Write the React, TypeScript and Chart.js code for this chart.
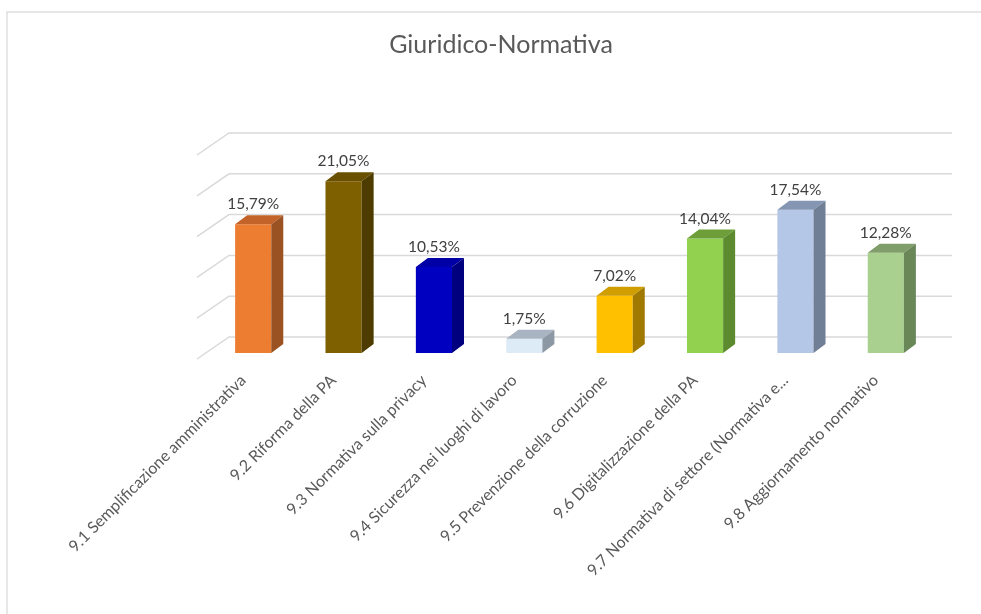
import React, { useEffect, useRef } from "react";
import { Chart, registerables } from "chart.js";

Chart.register(...registerables);

const TITLE = "Giuridico-Normativa";
const categories = [
  "9.1 Semplificazione amministrativa",
  "9.2 Riforma della PA",
  "9.3 Normativa sulla privacy",
  "9.4 Sicurezza nei luoghi di lavoro",
  "9.5 Prevenzione della corruzione",
  "9.6 Digitalizzazione della PA",
  "9.7 Normativa di settore (Normativa e...",
  "9.8 Aggiornamento normativo",
];
const values = [15.79, 21.05, 10.53, 1.75, 7.02, 14.04, 17.54, 12.28];
const frontColors = ["#ED7D31", "#7F6000", "#0000C0", "#DDEBF7", "#FFC000", "#92D050", "#B4C7E7", "#A9D08E"];
const topColors = ["#C3632A", "#695000", "#0000A6", "#A8B4C2", "#D09E00", "#6E9E3A", "#8496B2", "#7F9E69"];
const sideColors = ["#9A5222", "#4E3B00", "#00007E", "#8C98A4", "#A07A00", "#5C8A2E", "#707E96", "#6A8758"];
const yTicks = [0, 5, 10, 15, 20, 25];

const FONT = "Lato, 'Open Sans', sans-serif";

const frame3d = {
  id: "frame3d",
  beforeDraw(chart: any) {
    const ctx = chart.ctx;
    ctx.save();
    ctx.strokeStyle = "#E0E0E0";
    ctx.lineWidth = 1.5;
    ctx.beginPath();
    ctx.moveTo(7, chart.height);
    ctx.lineTo(7, 12);
    ctx.lineTo(chart.width, 12);
    ctx.stroke();
    // title
    ctx.fillStyle = "#595959";
    ctx.font = `25px ${FONT}`;
    ctx.textAlign = "center";
    ctx.textBaseline = "middle";
    ctx.fillText(TITLE, 501, 45);
    ctx.restore();
  },
  beforeDatasetsDraw(chart: any) {
    const ctx = chart.ctx;
    const y = chart.scales.y;
    const a = chart.chartArea;
    const bx = 21, by = 16;
    ctx.save();
    ctx.strokeStyle = "#D9D9D9";
    ctx.lineWidth = 1.5;
    for (const t of yTicks) {
      const py = y.getPixelForValue(t) - by;
      const lx = a.left + bx;
      ctx.beginPath();
      ctx.moveTo(lx - 32, py + 22);
      ctx.lineTo(lx, py);
      ctx.lineTo(a.right + bx, py);
      ctx.stroke();
    }
    ctx.restore();
  },
  afterDatasetsDraw(chart: any) {
    const ctx = chart.ctx;
    const meta = chart.getDatasetMeta(0);
    const dx = 12, dy = 9;
    ctx.save();
    meta.data.forEach((bar: any, i: number) => {
      const { x, y, base, width } = bar.getProps(["x", "y", "base", "width"], true);
      const l = x - width / 2, r = x + width / 2;
      ctx.fillStyle = topColors[i];
      ctx.beginPath();
      ctx.moveTo(l, y);
      ctx.lineTo(l + dx, y - dy);
      ctx.lineTo(r + dx, y - dy);
      ctx.lineTo(r, y);
      ctx.closePath();
      ctx.fill();
      ctx.fillStyle = sideColors[i];
      ctx.beginPath();
      ctx.moveTo(r, y);
      ctx.lineTo(r + dx, y - dy);
      ctx.lineTo(r + dx, base - dy);
      ctx.lineTo(r, base);
      ctx.closePath();
      ctx.fill();
      ctx.fillStyle = "#404040";
      ctx.font = `15.5px ${FONT}`;
      ctx.textAlign = "center";
      ctx.textBaseline = "bottom";
      ctx.fillText(values[i].toFixed(2).replace(".", ",") + "%", x, y - dy - 3);
    });
    ctx.restore();
  },
};

export default function App() {
  const ref = useRef<HTMLCanvasElement>(null);
  useEffect(() => {
    if (!ref.current) return;
    const chart = new Chart(ref.current, {
      type: "bar",
      data: {
        labels: categories,
        datasets: [
          {
            data: values,
            backgroundColor: frontColors,
            borderWidth: 0,
            barPercentage: 0.8,
            categoryPercentage: 0.5,
          },
        ],
      },
      options: {
        animation: false,
        responsive: false,
        devicePixelRatio: 1,
        layout: { padding: { top: 149, left: 208, right: 50, bottom: 0 } },
        plugins: { legend: { display: false }, title: { display: false }, tooltip: { enabled: false } },
        scales: {
          y: { display: false, min: 0, max: 25, ticks: { stepSize: 5 } },
          x: {
            grid: { display: false },
            border: { display: false },
            ticks: {
              color: "#595959",
              font: { family: FONT, size: 16 },
              minRotation: 45,
              maxRotation: 45,
              padding: 10,
              labelOffset: -10,
              autoSkip: false,
            },
            afterFit(scale: any) {
              scale.height = 261;
            },
          },
        },
      },
      plugins: [frame3d],
    });
    return () => chart.destroy();
  }, []);
  return (
    <div style={{ position: "absolute", left: 0, top: 0, width: 981, height: 614, background: "#fff" }}>
      <canvas ref={ref} width={981} height={614} style={{ display: "block", width: 981, height: 614 }} />
    </div>
  );
}
